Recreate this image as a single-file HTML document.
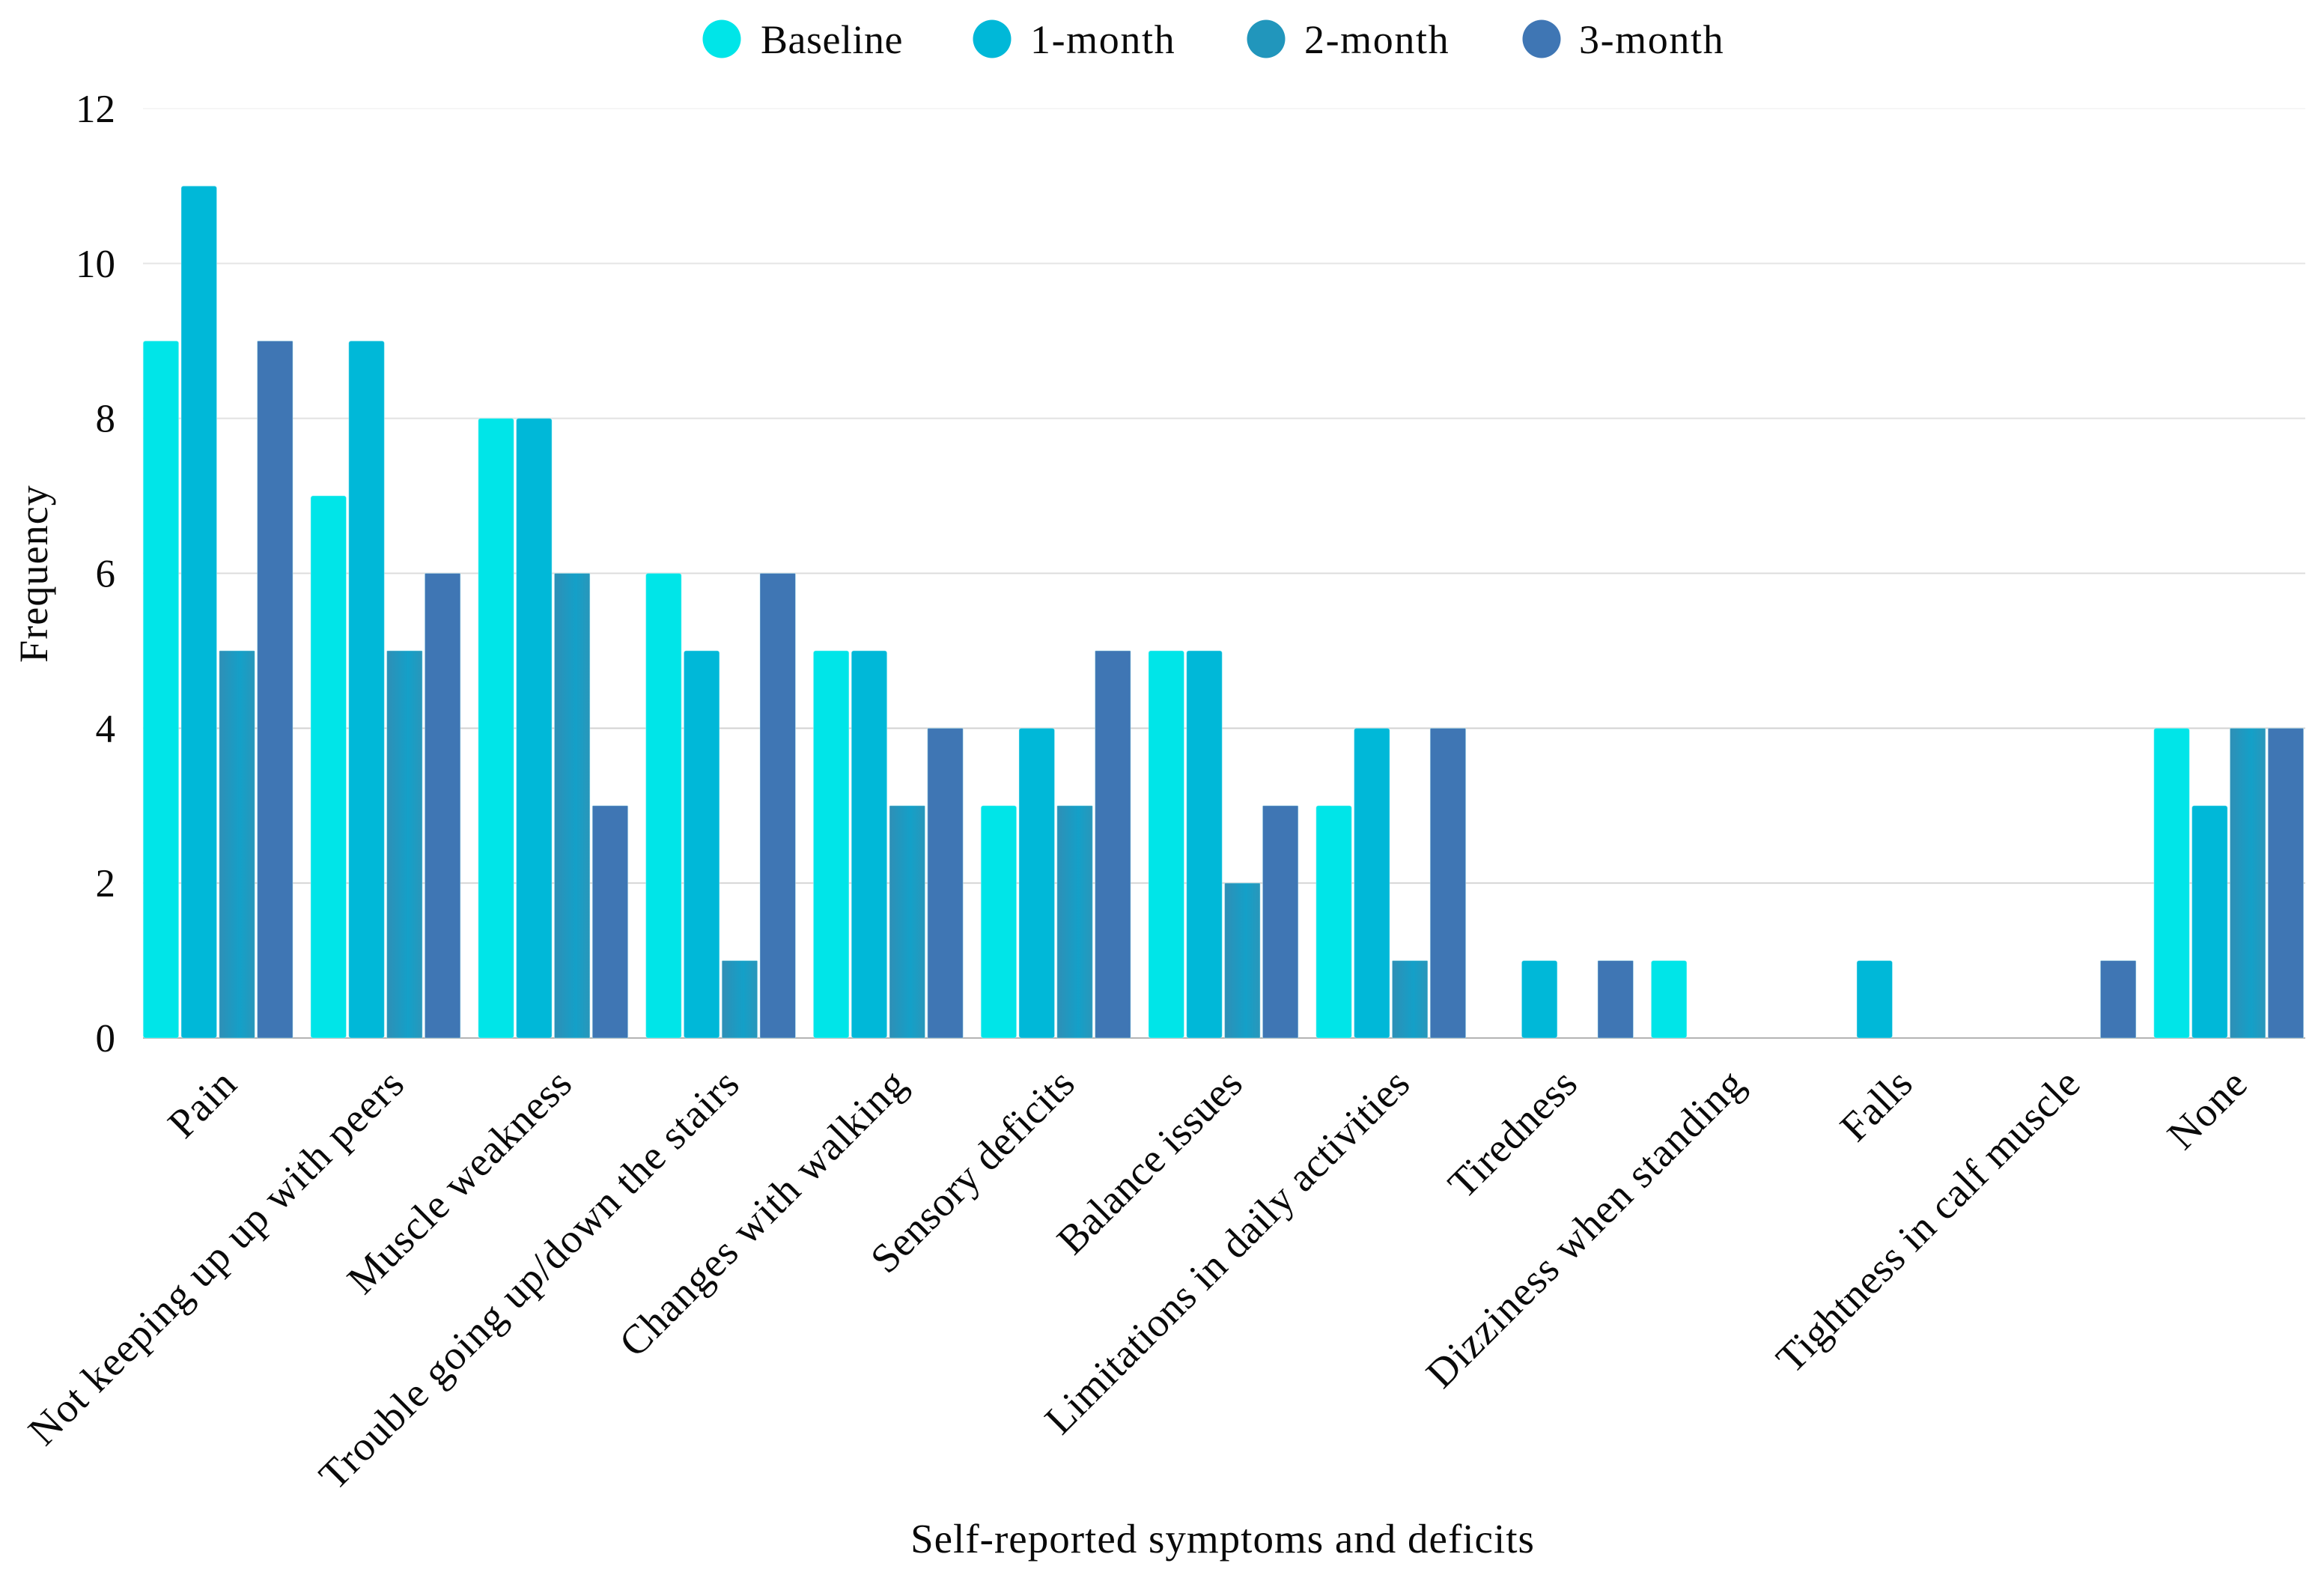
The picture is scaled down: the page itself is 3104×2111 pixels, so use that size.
<!DOCTYPE html>
<html lang="en">
<head>
<meta charset="utf-8">
<title>Self-reported symptoms and deficits</title>
<style>
html,body{margin:0;padding:0;background:#fff;}
svg{display:block;}
text{font-family:"Liberation Serif",serif;fill:#0a0a0a;}
</style>
</head>
<body>
<svg id="chart" width="3104" height="2111" viewBox="0 0 3104 2111" xmlns="http://www.w3.org/2000/svg">
<defs>
<linearGradient id="g2" x1="0" x2="1" y1="0" y2="0"><stop offset="0" stop-color="#2f8fb6"/><stop offset="0.6" stop-color="#14a0c8"/><stop offset="1" stop-color="#2a96ba"/></linearGradient>
</defs>
<rect width="3104" height="2111" fill="#fff"/>
<g id="grid"></g>
<g id="bars"></g>
<g id="yaxis"></g>
<g id="xaxis"></g>
<g id="legend"></g>
<text transform="translate(63,766) rotate(-90)" text-anchor="middle" font-size="54" letter-spacing="1.1">Frequency</text>
<text x="1633" y="2073" text-anchor="middle" font-size="55" letter-spacing="1">Self-reported symptoms and deficits</text>
</svg>
<script>
const categories = ["Pain","Not keeping up up with peers","Muscle weakness","Trouble going up/down the stairs","Changes with walking","Sensory deficits","Balance issues","Limitations in daily activities","Tiredness","Dizziness when standing","Falls","Tightness in calf muscle","None"];
const seriesNames = ["Baseline","1-month","2-month","3-month"];
const baseline = [9,7,8,6,5,3,5,3,0,1,0,0,4];
const month1 = [11,9,8,5,5,4,5,4,1,0,1,0,3];
const month2 = [5,5,6,1,3,3,2,1,0,0,0,0,4];
const month3 = [9,6,3,6,4,5,3,4,1,0,0,1,4];
const yTicks = [0,2,4,6,8,10,12];

const NS = "http://www.w3.org/2000/svg";
const allSeries = [baseline, month1, month2, month3];
const colors = ["#00e5e8","#00b8d8","url(#g2)","#3f76b4"];
const legendColors = ["#00e5e8","#00b8d8","#2196bc","#3f76b4"];
const plot = {x0:179.5, band:223.8, y0:1386, unit:103.42, right:3079};
const barStep = 50.8, barW = 47.5, groupPad = 11.7;
function xBand(i){ return plot.x0 + i*plot.band; }
function xBar(i,s){ return xBand(i) + groupPad + s*barStep; }
function yVal(v){ return plot.y0 - v*plot.unit; }
function mk(tag, attrs, parent){
  const el = document.createElementNS(NS, tag);
  for (const k in attrs) el.setAttribute(k, attrs[k]);
  parent.appendChild(el);
  return el;
}

const gGrid = document.getElementById("grid");
const gBars = document.getElementById("bars");
const gY = document.getElementById("yaxis");
const gX = document.getElementById("xaxis");
const gLegend = document.getElementById("legend");

yTicks.forEach(function(t){
  const strokes = {12:"#f6f6f6",10:"#e6e6e6",8:"#e2e2e2",6:"#dcdcdc",4:"#d2d2d2",2:"#d6d6d6",0:"#b4b4b4"};
  const line = mk("line",{x1:191,x2:plot.right,y1:yVal(t),y2:yVal(t),stroke:strokes[t]||"#ddd","stroke-width":2},gGrid);
  
  
  const lab = mk("text",{x:154,y:yVal(t)+18,"text-anchor":"end","font-size":53},gY);
  lab.textContent = t;
  
  
});

allSeries.forEach(function(vals,s){
  vals.forEach(function(v,i){
    if (v <= 0) return;
    const r = mk("rect",{x:xBar(i,s),y:yVal(v),width:barW,height:v*plot.unit,fill:colors[s],stroke:"#c8f8fb","stroke-opacity":0.45,"stroke-width":1,rx:s<2?3:1},gBars);
    
    
  });
});

const tickSpacing = {"Muscle weakness":0.7,"Sensory deficits":0.3,"Balance issues":0,"Limitations in daily activities":0.5,"Tiredness":0.5,"Falls":0.4,"Tightness in calf muscle":0.5};
categories.forEach(function(c,i){
  const cx = xBand(i) + plot.band/2;
  const px = cx + 28, py = 1450;
  const ls = (c in tickSpacing) ? tickSpacing[c] : 1.2;
  const t = mk("text",{transform:"translate("+px+","+py+") rotate(-45)","text-anchor":"end","font-size":55,"letter-spacing":ls},gX);
  t.textContent = c;
  
  
});

const legendCx = [964,1325,1691,2059];
const legendTx = [1016,1376,1742,2109];
seriesNames.forEach(function(n,s){
  const g = mk("g",{},gLegend);
  
  
  const m = mk("circle",{cx:legendCx[s],cy:52,r:25.5,fill:legendColors[s]},g);
  
  
  const t = mk("text",{x:legendTx[s],y:71,"font-size":54,"letter-spacing":s===0?0.5:1.6},g);
  t.textContent = n;
  
  
});
</script>
</body>
</html>
